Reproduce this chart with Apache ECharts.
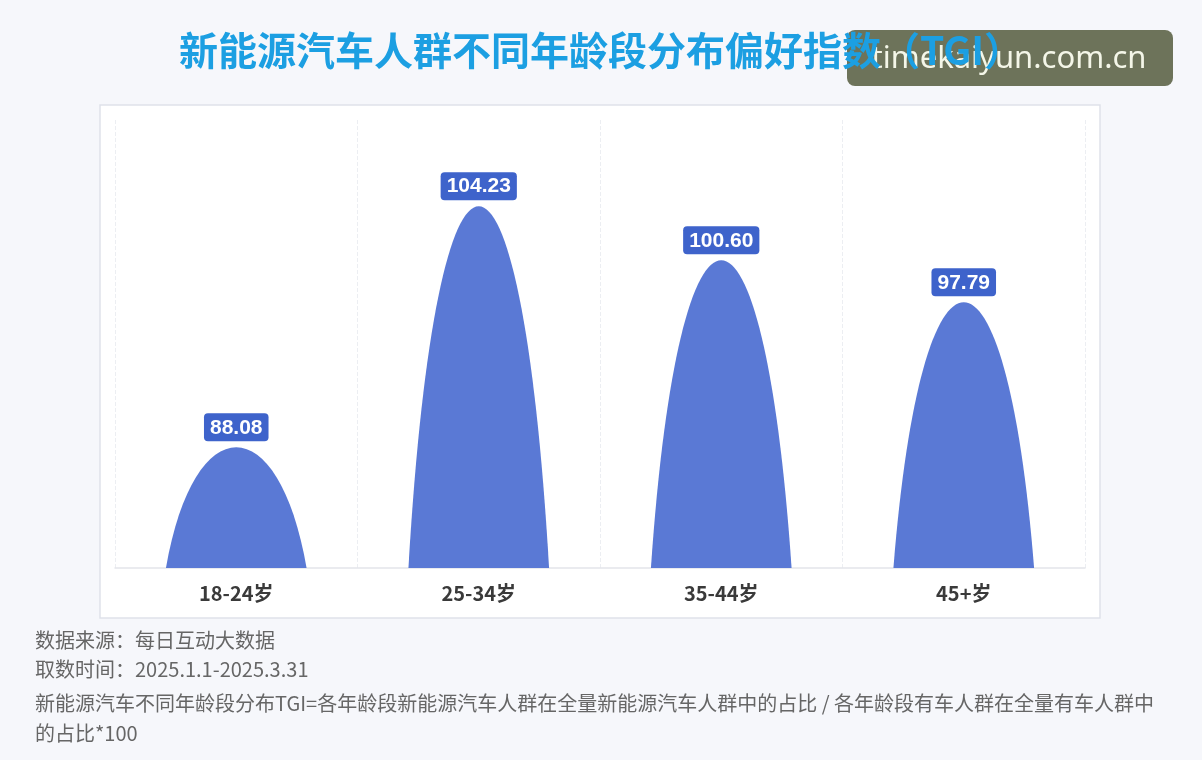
<!DOCTYPE html>
<html><head><meta charset="utf-8">
<script src="https://cdn.jsdelivr.net/npm/echarts@6/dist/echarts.min.js"></script>
<style>html,body{margin:0;padding:0;background:#f6f7fb;}#c{width:1202px;height:760px;}</style>
</head><body><div id="c"></div>
<script>
const titleText = '新能源汽车人群不同年龄段分布偏好指数（TGI）';
const categories = ['18-24岁', '25-34岁', '35-44岁', '45+岁'];
const tgiValues = [88.08, 104.23, 100.60, 97.79];
const yMin = 80, yMax = 110;
const footerLines = [
  '数据来源：每日互动大数据',
  '取数时间：2025.1.1-2025.3.31',
  '新能源汽车不同年龄段分布TGI=各年龄段新能源汽车人群在全量新能源汽车人群中的占比 / 各年龄段有车人群在全量有车人群中',
  '的占比*100'
];
const watermarkText = 'timekaiyun.com.cn';

const CJK = '"Noto Sans CJK SC", sans-serif';
const chart = echarts.init(document.getElementById('c'));
const footerY = [640, 669, 703, 733];
const BAR_RATIO = 0.58;
const CTRL_INSET = 0.2;

function renderDome(params, api) {
  const idx = api.value(0);
  const val = api.value(1);
  const top = api.coord([idx, val]);
  const base = api.coord([idx, yMin]);
  const band = api.size([1, 0])[0];
  const w = band * BAR_RATIO;
  const x0 = base[0] - w / 2, x1 = base[0] + w / 2;
  const yb = base[1], yt = top[1];
  const h = yb - yt;
  const cy = yb - h * 4 / 3; // cubic apex reaches exactly yt
  const pathStr = `M${x0},${yb} C${x0 + w * CTRL_INSET},${cy} ${x1 - w * CTRL_INSET},${cy} ${x1},${yb} Z`;
  return {
    type: 'group',
    children: [
      { type: 'path', shape: { pathData: pathStr }, style: { fill: '#5a79d5' } },
      { type: 'text', x: base[0], y: yt - 6,
        style: { text: val.toFixed(2), fill: '#ffffff', font: 'bold 21px "Liberation Sans", Arial, sans-serif',
          align: 'center', verticalAlign: 'bottom',
          backgroundColor: '#3e63cb', borderRadius: 4, padding: [4, 6, 3, 6] } }
    ]
  };
}

chart.setOption({
  backgroundColor: '#f6f7fb',
  animation: false,
  title: {
    text: titleText, left: 'center', top: 26,
    textStyle: { fontFamily: CJK, fontSize: 39, fontWeight: 'bold', color: '#1c9fe2' }
  },
  graphic: [
    { type: 'rect', z: -10, shape: { x: 100, y: 105, width: 1000, height: 513 },
      style: { fill: '#ffffff', stroke: '#dfe2ea', lineWidth: 1.5 } },
    { type: 'group', z: 100, children: [
      { type: 'rect', shape: { x: 847, y: 30, width: 326, height: 56, r: 8 }, style: { fill: '#6d735a' } },
      { type: 'text', x: 1009, y: 59, style: { text: watermarkText, fill: '#f4f6e8', font: '31px "Noto Sans", sans-serif', textAlign: 'center', textVerticalAlign: 'middle' } }
    ]},
    ...footerLines.map((t, i) => ({
      type: 'text', x: 35, y: footerY[i],
      style: { text: t, fill: '#666666', font: '20px ' + CJK, textVerticalAlign: 'middle' }
    }))
  ],
  grid: { left: 115, right: 117, top: 120, bottom: 192 },
  xAxis: {
    type: 'category', data: categories,
    axisLine: { show: true, lineStyle: { color: '#e3e5ea', width: 1.5 } },
    axisTick: { show: false },
    axisLabel: { margin: 15, fontFamily: CJK, fontSize: 20, fontWeight: 'bold', color: '#3a3a3a' },
    splitLine: { show: true, lineStyle: { color: '#eceef2', type: 'dashed', width: 1 } }
  },
  yAxis: { type: 'value', min: yMin, max: yMax, show: false, splitLine: { show: false } },
  series: [{
    type: 'custom',
    renderItem: renderDome,
    encode: { x: 0, y: 1 },
    data: tgiValues.map((v, i) => [i, v])
  }]
});
</script></body></html>
